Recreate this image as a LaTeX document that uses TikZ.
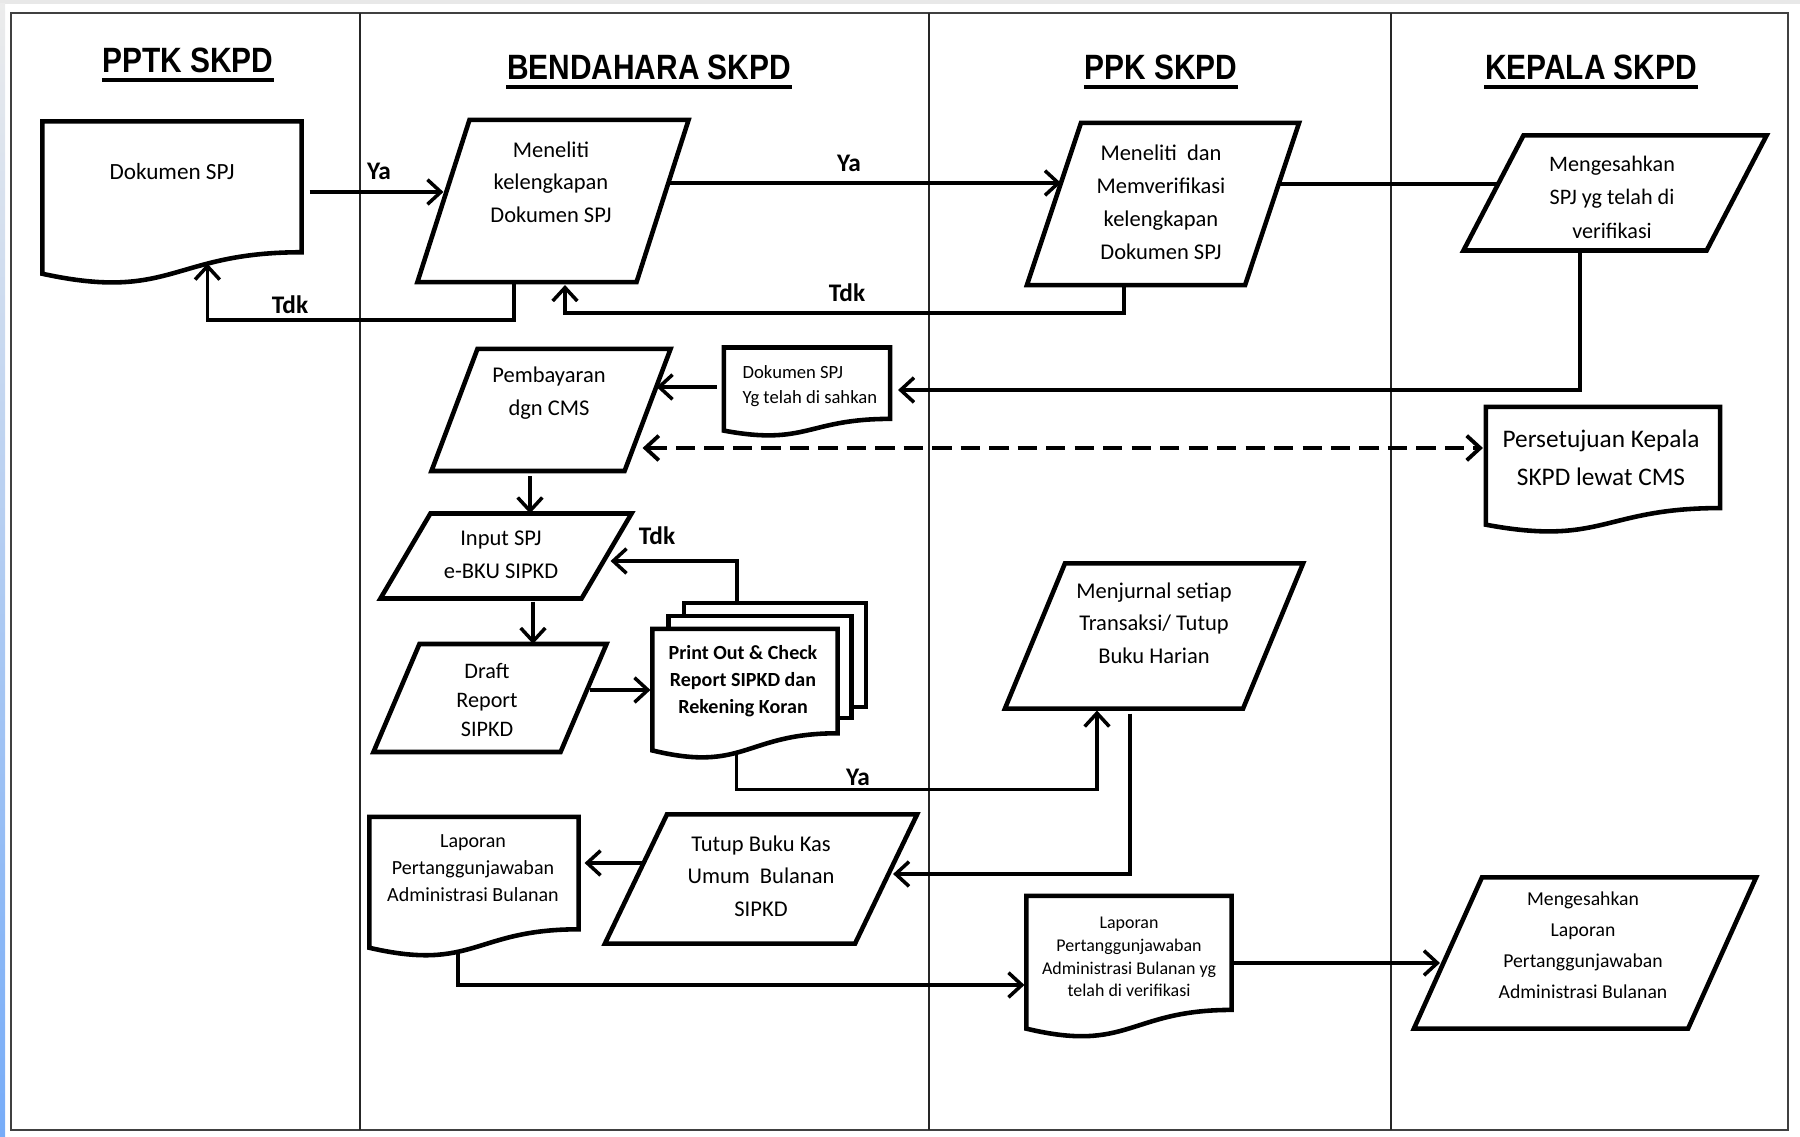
\documentclass[tikz,border=0pt]{standalone}
\usepackage{fontspec}
\setmainfont{Carlito}
\newfontfamily\headfont[FakeStretch=0.85]{Liberation Sans}
\usetikzlibrary{calc,arrows.meta}
\definecolor{sideblue}{RGB}{118,172,248}

\begin{document}
\begin{tikzpicture}[x=0.01cm,y=-0.01cm,
  lane/.style={line width=0.6pt,black!85},
  shp/.style={line width=1.3pt,fill=white},
  hold/.style={inner sep=0pt,outer sep=0pt},
  txt/.style={align=center,inner sep=0pt,font=\fontsize{6.4}{9.3}\selectfont},
  head/.style={inner sep=0pt,font=\headfont\bfseries\fontsize{10}{12}\selectfont},
  lbl/.style={inner sep=0pt,font=\bfseries\fontsize{7.2}{8}\selectfont},
  arr/.style={line width=1pt,-{Straight Barb[length=3.8pt,width=7pt]}},
  ln/.style={line width=1pt},
  darr/.style={line width=1.1pt,dash pattern=on 5.5pt off 2.6pt,
    {Straight Barb[length=3.8pt,width=7pt]}-{Straight Barb[length=3.8pt,width=7pt]}}]

\def\pgram#1#2{\draw[shp] ($(#1.north west)+(#2,0)$) -- ($(#1.north east)+(#2,0)$)
  -- ($(#1.south east)-(#2,0)$) -- ($(#1.south west)-(#2,0)$) -- cycle;}
\def\docshape#1#2{\draw[shp] (#1.north west) -- (#1.north east)
  -- ($(#1.north east)!0.802!(#1.south east)$)
  .. controls ($(#1.north)!0.802!(#1.south)$) and ($(#1.north)!1.107!(#1.south)$)
  .. ($(#1.north west)!0.934!(#1.south west)$) coordinate[pos=#2] (#1-w) -- cycle;}

\useasboundingbox (0,0) rectangle (1800,1137);
\fill[gray!18] (0,0) rectangle (1800,4);
\shade[top color=gray!15,bottom color=sideblue] (0,4) rectangle (5,1137);

\draw[line width=0.7pt,black!75] (11,13) rectangle (1788,1130);
\draw[lane] (360,13) -- (360,1130);
\draw[lane] (929,13) -- (929,1130);
\draw[lane] (1391,13) -- (1391,1130);

\node[head] (hA) at (188,60) {PPTK SKPD};
\node[head] (hB) at (649,67) {BENDAHARA SKPD};
\node[head] (hC) at (1161,67) {PPK SKPD};
\node[head] (hD) at (1591,67) {KEPALA SKPD};
\draw[line width=1pt] ($(hA.south west)+(0,7)$) -- ($(hA.south east)+(0,7)$);
\draw[line width=1pt] ($(hB.south west)+(0,7)$) -- ($(hB.south east)+(0,7)$);
\draw[line width=1pt] ($(hC.south west)+(0,7)$) -- ($(hC.south east)+(0,7)$);
\draw[line width=1pt] ($(hD.south west)+(0,7)$) -- ($(hD.south east)+(0,7)$);

\node[hold,minimum width=2.59cm,minimum height=1.63cm] (d1) at (172,203) {};
\docshape{d1}{0.325}
\node[hold,minimum width=2.19cm,minimum height=1.62cm] (p1) at (553,201) {};
\pgram{p1}{26}
\node[hold,minimum width=2.18cm,minimum height=1.62cm] (p2) at (1163,204) {};
\pgram{p2}{27}
\node[hold,minimum width=2.43cm,minimum height=1.15cm] (p3) at (1615,193) {};
\pgram{p3}{30}
\node[hold,minimum width=1.66cm,minimum height=0.89cm] (d2) at (807,392) {};
\docshape{d2}{0.5}
\node[hold,minimum width=1.93cm,minimum height=1.22cm] (p4) at (551,410) {};
\pgram{p4}{23}
\node[hold,minimum width=2.34cm,minimum height=1.26cm] (d3) at (1603,470) {};
\docshape{d3}{0.5}
\node[hold,minimum width=2.01cm,minimum height=0.85cm] (p5) at (506,556) {};
\pgram{p5}{25}
\node[hold,minimum width=1.87cm,minimum height=1.08cm] (p6) at (490,698) {};
\pgram{p6}{23}
\node[hold,draw,shp,minimum width=1.82cm,minimum height=1.04cm] (md3) at (775,655) {};
\node[hold,draw,shp,minimum width=1.83cm,minimum height=1.02cm] (md2) at (760,667) {};
\node[hold,minimum width=1.85cm,minimum height=1.30cm] (md) at (745,694) {};
\docshape{md}{0.56}
\node[hold,minimum width=2.38cm,minimum height=1.45cm] (p7) at (1154,636) {};
\pgram{p7}{30}
\node[hold,minimum width=2.50cm,minimum height=1.29cm] (p8) at (761,879) {};
\pgram{p8}{31}
\node[hold,minimum width=2.09cm,minimum height=1.40cm] (d4) at (474,887) {};
\docshape{d4}{0.6}
\node[hold,minimum width=2.05cm,minimum height=1.42cm] (d5) at (1129,967) {};
\docshape{d5}{0.5}
\node[hold,minimum width=2.74cm,minimum height=1.51cm] (p9) at (1585,953) {};
\pgram{p9}{34}

\node[txt,font=\fontsize{6.6}{9}\selectfont] (d1t) at (172,172) {Dokumen SPJ};
\node[txt] (p1t) at (551,182) {Meneliti\\kelengkapan\\Dokumen SPJ};
\node[txt,font=\fontsize{6.4}{9.4}\selectfont] (p2t) at (1161,202) {Meneliti\ \ dan\\Memverifikasi\\kelengkapan\\Dokumen SPJ};
\node[txt,font=\fontsize{6.3}{9.5}\selectfont] (p3t) at (1612,197) {Mengesahkan\\SPJ yg telah di\\verifikasi};
\node[txt,align=left,anchor=west,font=\fontsize{5.3}{7.1}\selectfont] (d2t) at (742,386) {Dokumen SPJ\\Yg telah di sahkan};
\node[txt] (p4t) at (549,393) {Pembayaran\\dgn CMS};
\node[txt,font=\fontsize{7.2}{10.8}\selectfont] (d3t) at (1601,458) {Persetujuan Kepala\\SKPD lewat CMS};
\node[txt] (p5t) at (501,555) {Input SPJ\\e-BKU SIPKD};
\node[txt,font=\fontsize{6.3}{8.3}\selectfont] (p6t) at (487,700) {Draft\\Report\\SIPKD};
\node[txt,font=\bfseries\fontsize{5.7}{7.7}\selectfont] (mdt) at (743,681) {Print Out \& Check\\Report SIPKD dan\\Rekening Koran};
\node[txt] (p7t) at (1154,623) {Menjurnal setiap\\Transaksi/ Tutup\\Buku Harian};
\node[txt] (p8t) at (761,876) {Tutup Buku Kas\\Umum\ \ Bulanan\\SIPKD};
\node[txt,font=\fontsize{5.7}{7.6}\selectfont] (d4t) at (473,868) {Laporan\\Pertanggunjawaban\\Administrasi Bulanan};
\node[txt,font=\fontsize{5.1}{6.5}\selectfont] (d5t) at (1129,957) {Laporan\\Pertanggunjawaban\\Administrasi Bulanan yg\\telah di verifikasi};
\node[txt,font=\fontsize{5.6}{8.8}\selectfont] (p9t) at (1583,945) {Mengesahkan\\Laporan\\Pertanggunjawaban\\Administrasi Bulanan};

\draw[arr] ($(d1.east)+(8,-11)$) -- ($(p1.west)+(0,-9)$);
\draw[arr] ($(p1.south)+(-39,0)$) -- ++(0,38) -| (d1-w);
\draw[arr] ($(p1.east)+(6,-18)$) -- ($(p2.west)+(7,-21)$);
\draw[arr] ($(p2.south)+(-39,0)$) -- ++(0,28) -| ($(p1.south)+(12,3)$);
\draw[ln] ($(p2.east)+(7,-20)$) -- ($(p3.west)+(4,-9)$);
\draw[arr] ($(p3.south)+(-35,0)$) |- ($(d2.east)+(8,-2)$);
\draw[arr] ($(d2.west)+(-7,-5)$) -- ($(p4.east)+(9,-23)$);
\draw[darr] ($(p4.east)+(-5,38)$) -- ($(d3.west)+(-3,-22)$);
\draw[arr] ($(p4.south)+(-21,5)$) -- ($(p5.north)+(24,0)$);
\draw[arr] ($(p5.south)+(27,3)$) -- ($(p6.north)+(43,0)$);
\draw[arr] ($(p6.east)+(6,-8)$) -- ($(md.west)+(-2,-4)$);
\draw[arr] ($(md3.north)+(-38,0)$) |- ($(p5.east)+(4,5)$);
\draw[arr] (md-w) -- ++(0,37) -| ($(p7.south)+(-57,2)$);
\draw[arr] ($(p7.south)+(-24,5)$) |- ($(p8.east)+(7,-5)$);
\draw[arr] ($(p8.west)+(7,-16)$) -- ($(d4.east)+(6,-24)$);
\draw[arr] (d4-w) |- ($(d5.west)+(-2,18)$);
\draw[arr] ($(d5.east)+(0,-4)$) -- ($(p9.west)+(-8,10)$);

\node[lbl] (l1) at (379,171) {Ya};
\node[lbl] (l2) at (290,305) {Tdk};
\node[lbl] (l3) at (849,163) {Ya};
\node[lbl] (l4) at (847,293) {Tdk};
\node[lbl] (l5) at (657,536) {Tdk};
\node[lbl] (l6) at (858,777) {Ya};
\end{tikzpicture}
\end{document}
